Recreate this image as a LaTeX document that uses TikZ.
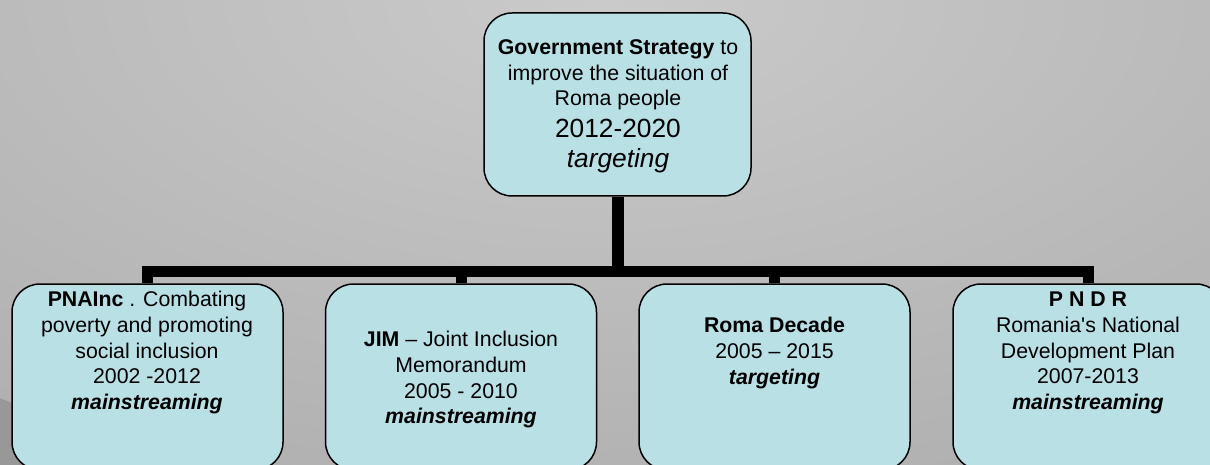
\documentclass[tikz,border=0pt]{standalone}
\usepackage{fontspec}
\newfontfamily\arial{Liberation Sans}
\definecolor{boxfill}{RGB}{185,224,228}
\definecolor{bgin}{RGB}{202,202,202}
\definecolor{bgout}{RGB}{152,152,152}
\pgfdeclareradialshading{bgshade}{\pgfpoint{0bp}{0bp}}{color(0bp)=(bgin); color(50bp)=(bgout)}
\begin{document}
\begin{tikzpicture}[x=1pt,y=-1pt,
  box/.style={rectangle, draw=black, line width=1.5pt, fill=boxfill, rounded corners=28pt, inner sep=0pt},
  lowbox/.style={box, minimum width=271pt, minimum height=186pt},
  conn/.style={line width=11pt, black, line join=miter},
  ln/.style={anchor=base, inner sep=0pt, font=\arial\fontsize{21.3}{25.6}\selectfont},
  big/.style={ln, font=\arial\fontsize{26.3}{31}\selectfont}]
\useasboundingbox (0,0) rectangle (1210,465);
\begin{scope}
\clip (0,0) rectangle (1210,465);
\fill[bgout] (0,0) rectangle (1210,465);
\shade[shading=bgshade] (605,0) ellipse [x radius=1000pt, y radius=500pt];
\end{scope}
% boxes
\node[box, minimum width=267pt, minimum height=183pt] (top) at (617.5,104.5) {};
\node[lowbox] (b1) at (147.5,377) {};
\node[lowbox] (b2) at (461,377) {};
\node[lowbox] (b3) at (774.5,377) {};
\node[lowbox] (b4) at (1088.5,377) {};
% connectors
\coordinate (bus) at (617.5,271.5);
\draw[conn, line width=12pt] (top.south) -- (top.south |- bus);
\draw[conn] (b1.north) -- (b1.north |- bus) -- (b4.north |- bus) -- (b4.north);
\draw[conn] (b2.north) -- (b2.north |- bus);
\draw[conn] (b3.north) -- (b3.north |- bus);
% top text
\node[ln] (g1) at (618,55) {\textbf{Government Strategy} to};
\node[ln] (g2) at (618,80.7) {improve the situation of};
\node[ln] (g3) at (618,106) {Roma people};
\node[big] (g4) at (618,137.5) {2012-2020};
\node[big] (g5) at (618,168) {\textit{targeting}};
% box 1
\node[ln] (p1) at (147,306.7) {\textbf{PNAInc} . Combating};
\node[ln] (p2) at (147,332.3) {poverty and promoting};
\node[ln] (p3) at (147,358) {social inclusion};
\node[ln] (p4) at (147,383.6) {2002 -2012};
\node[ln] (p5) at (147,409.2) {\textbf{\textit{mainstreaming}}};
% box 2
\node[ln] (j1) at (461,346.7) {\textbf{JIM} – Joint Inclusion};
\node[ln] (j2) at (461,372.3) {Memorandum};
\node[ln] (j3) at (461,398) {2005 - 2010};
\node[ln] (j4) at (461,423.6) {\textbf{\textit{mainstreaming}}};
% box 3
\node[ln] (r1) at (774.5,332.7) {\textbf{Roma Decade}};
\node[ln] (r2) at (774.5,358.3) {2005 – 2015};
\node[ln] (r3) at (774.5,384) {\textbf{\textit{targeting}}};
% box 4
\node[ln] (n1) at (1088,306.7) {\textbf{P N D R}};
\node[ln] (n2) at (1088,332.3) {Romania's National};
\node[ln] (n3) at (1088,358) {Development Plan};
\node[ln] (n4) at (1088,383.6) {2007-2013};
\node[ln] (n5) at (1088,409.2) {\textbf{\textit{mainstreaming}}};
\end{tikzpicture}
\end{document}
